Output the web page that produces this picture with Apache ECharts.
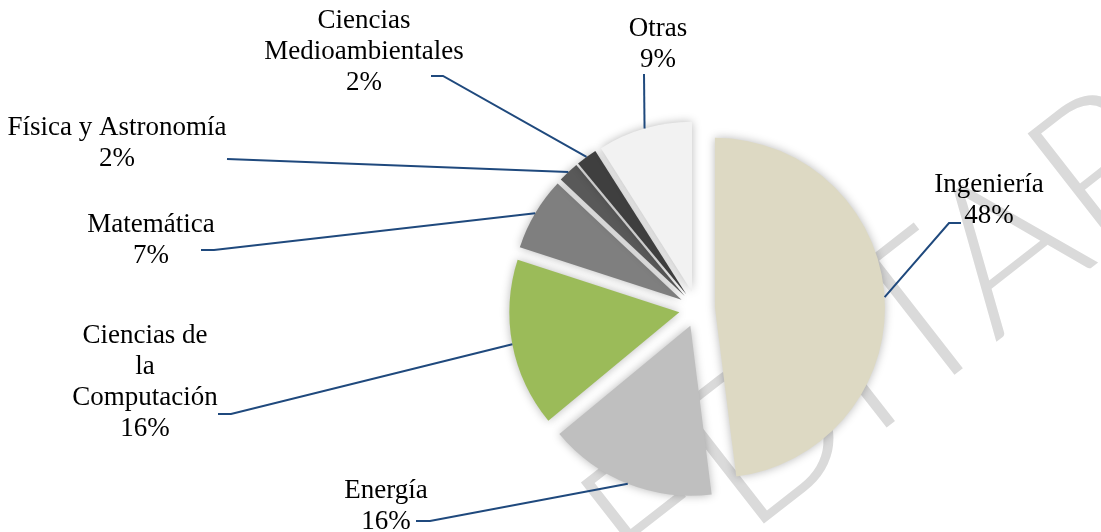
<!DOCTYPE html>
<html>
<head>
<meta charset="utf-8">
<script src="https://cdn.jsdelivr.net/npm/echarts@6/dist/echarts.min.js"></script>
<style>
  html, body { margin: 0; padding: 0; background: #fff; }
  #chart { width: 1101px; height: 532px; }
</style>
</head>
<body>
<div id="chart"></div>
<script>
// data
const categories = ['Ingeniería', 'Energía', 'Ciencias de la Computación', 'Matemática',
  'Física y Astronomía', 'Ciencias Medioambientales', 'Otras']
const labelNames = ['Ingeniería', 'Energía', 'Ciencias de\nla\nComputación', 'Matemática',
  'Física y Astronomía', 'Ciencias\nMedioambientales', 'Otras']
const percents = [48, 16, 16, 7, 2, 2, 9]

const colors = ['#DDD9C3', '#BFBFBF', '#9BBB59', '#7F7F7F', '#595959', '#3F3F3F', '#F2F2F2']

// where each label sits (text centre) and where its leader line ends
const labelPos = [[989, 200], [386, 506], [145, 382], [151, 240], [117, 143], [364, 52], [658, 44]]
const leaderEnds = [
  [[949, 223], [961, 223]],
  [[430, 521], [416, 521]],
  [[231, 414], [218, 414]],
  [[214, 250], [201, 250]],
  [[227, 159], [227, 159]],
  [[443, 76], [431, 76]],
  [[644, 74], [644, 74]]
]

const CENTER = [697, 309]
const RADIUS = 170
const OFFSET = 18 // explosion of every slice

const chart = echarts.init(document.getElementById('chart'))

// mid point of a slice's outer arc
function arcPoint (i) {
  const l = chart.getModel().getSeriesByIndex(1).getData().getItemLayout(i)
  const mid = (l.startAngle + l.endAngle) / 2
  return [l.cx + Math.cos(mid) * l.r, l.cy + Math.sin(mid) * l.r]
}

const pieData = categories.map((name, i) => ({
  name,
  value: percents[i],
  selected: true,
  itemStyle: { color: colors[i] }
}))

chart.setOption({
  backgroundColor: '#fff',
  animation: false,
  graphic: [
    {
      // watermark
      type: 'text',
      x: 885,
      y: 345,
      rotation: 38 * Math.PI / 180,
      z: 0,
      silent: true,
      style: {
        text: 'EDITAR',
        fontFamily: 'Lato',
        fontWeight: 300,
        fontSize: 205,
        fill: '#dadada',
        align: 'center',
        verticalAlign: 'middle'
      }
    }
  ],
  series: [
    {
      // the exploded slices
      type: 'pie',
      z: 5,
      center: CENTER,
      radius: RADIUS,
      startAngle: 90,
      clockwise: true,
      selectedMode: 'multiple',
      selectedOffset: OFFSET,
      emphasis: { disabled: true },
      itemStyle: {
        shadowBlur: 10,
        shadowColor: 'rgba(0, 0, 0, 0.28)'
      },
      label: { show: false },
      labelLine: { show: false },
      data: pieData
    },
    {
      // invisible ring at the exploded radius, carries labels and leader lines
      type: 'pie',
      z: 6,
      silent: true,
      center: CENTER,
      radius: RADIUS + OFFSET,
      startAngle: 90,
      clockwise: true,
      selectedMode: false,
      avoidLabelOverlap: false,
      emphasis: { disabled: true },
      itemStyle: { color: 'rgba(0,0,0,0)', borderWidth: 0 },
      label: {
        show: true,
        position: 'outside',
        color: '#000',
        fontFamily: 'Liberation Serif',
        fontSize: 27,
        lineHeight: 31,
        align: 'center',
        formatter: p => labelNames[p.dataIndex] + '\n' + p.value + '%'
      },
      labelLine: {
        show: true,
        smooth: false,
        lineStyle: { color: '#1F497D', width: 2 }
      },
      labelLayout: params => {
        const i = params.dataIndex
        return {
          x: labelPos[i][0],
          y: labelPos[i][1],
          align: 'center',
          verticalAlign: 'middle',
          labelLinePoints: [arcPoint(i)].concat(leaderEnds[i])
        }
      },
      data: categories.map((name, i) => ({ name, value: percents[i] }))
    }
  ]
})
</script>
</body>
</html>
